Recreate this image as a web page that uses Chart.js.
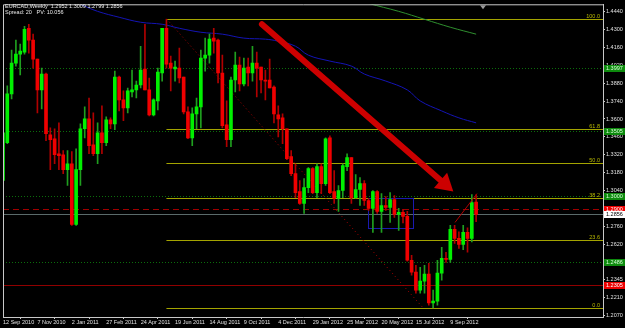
<!DOCTYPE html>
<html>
<head>
<meta charset="utf-8">
<script src="https://cdn.jsdelivr.net/npm/chart.js@4/dist/chart.umd.min.js"></script>
<style>
  html, body { margin: 0; padding: 0; background: #000; overflow: hidden; }
</style>
</head>
<body>
<canvas id="chart" width="625" height="328"></canvas>
<script>
// weekly EURCAD candles, first bar = 12 Sep 2010
const dateLabels = ['12 Sep 2010', '7 Nov 2010', '2 Jan 2011', '27 Feb 2011', '24 Apr 2011', '19 Jun 2011',
  '14 Aug 2011', '9 Oct 2011', '4 Dec 2011', '29 Jan 2012', '25 Mar 2012', '20 May 2012', '15 Jul 2012', '9 Sep 2012'];

const opens = [
  1.3120, 1.3415, 1.3796, 1.4036, 1.4106, 1.4122, 1.4308, 1.4215, 1.4067, 1.3827,
  1.3951, 1.3477, 1.3446, 1.3329, 1.3321, 1.3205, 1.3251, 1.2778, 1.3205, 1.3524,
  1.3601, 1.3399, 1.3329, 1.3492, 1.3415, 1.3593, 1.3562, 1.3927, 1.3749, 1.3687,
  1.3811, 1.3827, 1.3865, 1.3990, 1.3827, 1.3632, 1.3741, 1.3959, 1.4308, 1.4036,
  1.3990, 1.3997, 1.3927, 1.3656, 1.3453, 1.3640, 1.3694, 1.4075, 1.4098, 1.4231,
  1.4215, 1.3959, 1.3555, 1.3438, 1.3904, 1.4021, 1.3873, 1.4005, 1.3959, 1.4036,
  1.4005, 1.3904, 1.3904, 1.3850, 1.3632, 1.3609, 1.3524, 1.3306, 1.3174, 1.3034,
  1.2941, 1.3065, 1.3213, 1.3026, 1.3228, 1.3096, 1.3453, 1.3034, 1.2980, 1.3042,
  1.3228, 1.3298, 1.2987, 1.3050, 1.3096, 1.2964, 1.2902, 1.3034, 1.2879, 1.2925,
  1.2910, 1.2972, 1.2855, 1.2871, 1.2840, 1.2498, 1.2405, 1.2265, 1.2335, 1.2389,
  1.2164, 1.2179, 1.2397, 1.2513, 1.2505, 1.2739, 1.2669, 1.2622, 1.2715, 1.2669,
  1.2952];
const highs = [
  1.3508, 1.3858, 1.4137, 1.4215, 1.4184, 1.4324, 1.4339, 1.4262, 1.4067, 1.3997,
  1.3959, 1.3531, 1.3524, 1.3570, 1.3353, 1.3353, 1.3345, 1.3368, 1.3562, 1.3694,
  1.3764, 1.3648, 1.3570, 1.3702, 1.3617, 1.3609, 1.3974, 1.3935, 1.3819, 1.3842,
  1.3982, 1.3896, 1.4168, 1.4339, 1.3920, 1.3757, 1.3997, 1.4308, 1.4378, 1.4091,
  1.4052, 1.4153, 1.3927, 1.3694, 1.3687, 1.3764, 1.4137, 1.4231, 1.4262, 1.4308,
  1.4223, 1.4098, 1.3741, 1.3927, 1.4122, 1.4083, 1.4075, 1.4075, 1.4168, 1.4122,
  1.4005, 1.3982, 1.4067, 1.3858, 1.3702, 1.3640, 1.3524, 1.3353, 1.3251, 1.3120,
  1.3135, 1.3220, 1.3220, 1.3251, 1.3251, 1.3453, 1.3469, 1.3197, 1.3081, 1.3251,
  1.3329, 1.3298, 1.3166, 1.3143, 1.3120, 1.2980, 1.3042, 1.3042, 1.3018, 1.2995,
  1.3026, 1.3003, 1.2902, 1.2895, 1.2879, 1.2537, 1.2459, 1.2443, 1.2459, 1.2474,
  1.2265, 1.2498, 1.2599, 1.2560, 1.2770, 1.2770, 1.2720, 1.2770, 1.2750, 1.3011,
  1.3009];
const lows = [
  1.3104, 1.3407, 1.3757, 1.4013, 1.3943, 1.4106, 1.4114, 1.3997, 1.3648, 1.3679,
  1.3430, 1.3205, 1.3251, 1.3205, 1.3174, 1.3081, 1.2770, 1.2770, 1.3081, 1.3453,
  1.3329, 1.3314, 1.3251, 1.3329, 1.3391, 1.3524, 1.3516, 1.3663, 1.3586, 1.3648,
  1.3772, 1.3764, 1.3842, 1.3827, 1.3625, 1.3625, 1.3671, 1.3896, 1.3997, 1.3819,
  1.3896, 1.3881, 1.3640, 1.3446, 1.3391, 1.3524, 1.3531, 1.3974, 1.4036, 1.4114,
  1.3881, 1.3531, 1.3384, 1.3384, 1.3811, 1.3819, 1.3858, 1.3858, 1.3896, 1.3772,
  1.3803, 1.3749, 1.3842, 1.3570, 1.3461, 1.3407, 1.3283, 1.3158, 1.2987, 1.2933,
  1.2863, 1.3026, 1.3018, 1.2987, 1.3018, 1.3081, 1.3018, 1.2941, 1.2879, 1.2987,
  1.3197, 1.2941, 1.2980, 1.2925, 1.2925, 1.2886, 1.2715, 1.2863, 1.2715, 1.2886,
  1.2793, 1.2832, 1.2731, 1.2790, 1.2490, 1.2381, 1.2241, 1.2241, 1.2241, 1.2148,
  1.2125, 1.2148, 1.2342, 1.2480, 1.2480, 1.2630, 1.2590, 1.2580, 1.2560, 1.2640,
  1.2799];
const closes = [
  1.3492, 1.3796, 1.4036, 1.4106, 1.4130, 1.4300, 1.4215, 1.4067, 1.3827, 1.3951,
  1.3485, 1.3438, 1.3321, 1.3314, 1.3205, 1.3251, 1.2778, 1.3205, 1.3524, 1.3601,
  1.3391, 1.3329, 1.3492, 1.3415, 1.3593, 1.3562, 1.3927, 1.3749, 1.3687, 1.3819,
  1.3827, 1.3865, 1.3982, 1.3827, 1.3632, 1.3749, 1.3966, 1.4308, 1.4028, 1.3997,
  1.4005, 1.3920, 1.3656, 1.3453, 1.3640, 1.3694, 1.4075, 1.4098, 1.4223, 1.4207,
  1.3959, 1.3547, 1.3438, 1.3904, 1.4021, 1.3873, 1.3997, 1.3959, 1.4036, 1.3997,
  1.3904, 1.3896, 1.3842, 1.3640, 1.3601, 1.3524, 1.3290, 1.3174, 1.3026, 1.2941,
  1.3065, 1.3213, 1.3026, 1.3228, 1.3096, 1.3446, 1.3026, 1.2980, 1.3042, 1.3236,
  1.3298, 1.2987, 1.3050, 1.3096, 1.2964, 1.2902, 1.3034, 1.2879, 1.2925, 1.2910,
  1.2972, 1.2855, 1.2871, 1.2840, 1.2498, 1.2405, 1.2265, 1.2335, 1.2389, 1.2164,
  1.2179, 1.2397, 1.2513, 1.2505, 1.2739, 1.2669, 1.2622, 1.2715, 1.2669, 1.2948,
  1.2856];

// moving averages, read at a few bars
const maBlueIdx = [18, 22, 27, 32, 37, 41, 46, 51, 56, 61, 64, 68, 71, 76, 81, 84, 89, 94, 97, 102, 106, 110];
const maBlueVal = [1.4495, 1.4440, 1.4394, 1.4355, 1.4339, 1.4308, 1.4277, 1.4262, 1.4231, 1.4223, 1.4207,
  1.4168, 1.4098, 1.4052, 1.4013, 1.3951, 1.3896, 1.3827, 1.3741, 1.3663, 1.3609, 1.3570];
const maGreenIdx = [83, 85, 92, 98, 104, 110];
const maGreenVal = [1.4526, 1.4502, 1.4440, 1.4378, 1.4316, 1.4262];

const yTicks = [1.4440, 1.4300, 1.4160, 1.4020, 1.3880, 1.3740, 1.3600, 1.3460, 1.3320, 1.3180, 1.3040,
  1.2900, 1.2760, 1.2620, 1.2480, 1.2345, 1.2210, 1.2070];

// fibonacci retracement
const fibFrom = { x: 38, y: 1.4382 };
const fibTo = { x: 97.7, y: 1.2125 };
const fibRatios = [1, 0.618, 0.5, 0.382, 0.236, 0];
const fibNames = ['100.0', '61.8', '50.0', '38.2', '23.6', '0.0'];

const greenLevels = [1.3997, 1.3505, 1.3000, 1.2486];
const redDashLevel = 1.2900;
const redLevel = 1.2305;
const arrowFrom = { x: 60.2, y: 1.4339 };
const arrowTo = { x: 104.7, y: 1.3034 };
const boxCorners = [{ x: 84.9, y: 1.2987 }, { x: 95.3, y: 1.2754 }];
const trendSeg = [{ x: 105.1, y: 1.2793 }, { x: 110.2, y: 1.3018 }];

const FONT = 'Liberation Sans';
const idx = opens.map((o, i) => i);
const isUp = idx.map(i => closes[i] >= opens[i]);

const overlay = {
  id: 'overlay',
  beforeDatasetsDraw(chart) {
    const { ctx, chartArea: a, scales: { x, y } } = chart;
    ctx.save();
    ctx.beginPath();
    ctx.rect(a.left, a.top, a.width, a.height);
    ctx.clip();
    const hline = (v, color, dash, x0) => {
      const py = Math.round(y.getPixelForValue(v)) + 0.5;
      ctx.strokeStyle = color;
      ctx.lineWidth = 1;
      ctx.setLineDash(dash);
      ctx.beginPath();
      ctx.moveTo(x0 === undefined ? a.left : x0, py);
      ctx.lineTo(a.right, py);
      ctx.stroke();
    };
    greenLevels.forEach(v => hline(v, '#0b6e0b', [1, 2]));
    hline(redDashLevel, '#a00000', [6, 4]);
    hline(redLevel, '#900000', []);
    hline(closes[closes.length - 1], '#5a6a6a', []);
    // fib
    const fx = x.getPixelForValue(fibFrom.x);
    ctx.font = '5.5px ' + FONT;
    ctx.textAlign = 'right';
    ctx.textBaseline = 'bottom';
    fibRatios.forEach((r, k) => {
      const v = fibTo.y + r * (fibFrom.y - fibTo.y);
      hline(v, '#a4a400', [], fx);
      ctx.fillStyle = '#b8b800';
      ctx.fillText(fibNames[k], a.right - 3, Math.round(y.getPixelForValue(v)));
    });
    ctx.setLineDash([1, 3]);
    ctx.strokeStyle = '#b00000';
    ctx.beginPath();
    ctx.moveTo(fx, y.getPixelForValue(fibFrom.y));
    ctx.lineTo(x.getPixelForValue(fibTo.x), y.getPixelForValue(fibTo.y));
    ctx.stroke();
    ctx.setLineDash([]);
    // box
    const bx0 = x.getPixelForValue(boxCorners[0].x), by0 = y.getPixelForValue(boxCorners[0].y);
    const bx1 = x.getPixelForValue(boxCorners[1].x), by1 = y.getPixelForValue(boxCorners[1].y);
    ctx.strokeStyle = '#1a1ab0';
    ctx.strokeRect(Math.round(bx0) + 0.5, Math.round(by0) + 0.5, Math.round(bx1 - bx0), Math.round(by1 - by0));
    ctx.restore();
  },
  afterDatasetsDraw(chart) {
    const { ctx, chartArea: a, scales: { x, y } } = chart;
    ctx.save();
    ctx.beginPath();
    ctx.rect(a.left, a.top, a.width, a.height);
    ctx.clip();
    // trend segment
    ctx.strokeStyle = '#b00000';
    ctx.lineWidth = 1;
    ctx.beginPath();
    ctx.moveTo(x.getPixelForValue(trendSeg[0].x), y.getPixelForValue(trendSeg[0].y));
    ctx.lineTo(x.getPixelForValue(trendSeg[1].x), y.getPixelForValue(trendSeg[1].y));
    ctx.stroke();
    // big arrow
    const x0 = x.getPixelForValue(arrowFrom.x), y0 = y.getPixelForValue(arrowFrom.y);
    const x1 = x.getPixelForValue(arrowTo.x), y1 = y.getPixelForValue(arrowTo.y);
    const ang = Math.atan2(y1 - y0, x1 - x0);
    const headLen = 17, headW = 10;
    const bx = x1 - headLen * Math.cos(ang), by = y1 - headLen * Math.sin(ang);
    ctx.strokeStyle = '#cc0000';
    ctx.fillStyle = '#cc0000';
    ctx.lineWidth = 6;
    ctx.lineCap = 'round';
    ctx.beginPath();
    ctx.moveTo(x0, y0);
    ctx.lineTo(bx, by);
    ctx.stroke();
    ctx.beginPath();
    ctx.moveTo(x1, y1);
    ctx.lineTo(bx + headW * Math.sin(ang), by - headW * Math.cos(ang));
    ctx.lineTo(bx - headW * Math.sin(ang), by + headW * Math.cos(ang));
    ctx.closePath();
    ctx.fill();
    ctx.restore();
  },
  afterDraw(chart) {
    const { ctx, chartArea: a, scales: { x, y } } = chart;
    ctx.save();
    // frame
    ctx.strokeStyle = '#c8c8c8';
    ctx.lineWidth = 1;
    ctx.beginPath();
    ctx.moveTo(a.left + 0.5, a.bottom);
    ctx.lineTo(a.left + 0.5, a.top + 0.5);
    ctx.lineTo(a.right, a.top + 0.5);
    ctx.stroke();
    // chart shift marker
    const sx = Math.round(x.getPixelForValue(opens.length + 0.5));
    ctx.fillStyle = '#9a9a9a';
    ctx.beginPath();
    ctx.moveTo(sx - 3, a.top + 1);
    ctx.lineTo(sx + 3, a.top + 1);
    ctx.lineTo(sx, a.top + 5);
    ctx.closePath();
    ctx.fill();
    // title
    ctx.font = '5.5px ' + FONT;
    ctx.fillStyle = '#e8e8e8';
    ctx.textAlign = 'left';
    ctx.textBaseline = 'middle';
    const last = closes.length - 1;
    ctx.fillText('EURCAD,Weekly  ' + opens[last].toFixed(4) + ' ' + highs[last].toFixed(4) + ' ' +
      lows[last].toFixed(4) + ' ' + closes[last].toFixed(4), 5, 6);
    ctx.fillText('Spread: 20   PV: 10.056', 5, 12);
    // price tags on the right scale
    const tag = (v, bg, fg) => {
      const py = Math.round(y.getPixelForValue(v));
      ctx.fillStyle = bg;
      ctx.fillRect(a.right + 1, py - 3, 21, 7);
      ctx.fillStyle = fg;
      ctx.fillText(v.toFixed(4), a.right + 3, py + 0.5);
    };
    greenLevels.forEach(v => tag(v, '#0d8a0d', '#d8ffd8'));
    tag(redDashLevel, '#ee0000', '#ffffff');
    tag(redLevel, '#ee0000', '#ffffff');
    tag(closes[last], '#ffffff', '#000000');
    ctx.restore();
  }
};

new Chart(document.getElementById('chart'), {
  type: 'bar',
  data: {
    datasets: [
      {
        type: 'line',
        data: maBlueIdx.map((v, k) => ({ x: v, y: maBlueVal[k] })),
        borderColor: '#1414b4',
        borderWidth: 1,
        pointRadius: 0,
        tension: 0.4,
        order: 3
      },
      {
        type: 'line',
        data: maGreenIdx.map((v, k) => ({ x: v, y: maGreenVal[k] })),
        borderColor: '#2f8f2f',
        borderWidth: 1,
        pointRadius: 0,
        tension: 0.4,
        order: 3
      },
      {
        label: 'wick',
        data: idx.map(i => ({ x: i, y: [lows[i], highs[i]] })),
        backgroundColor: idx.map(i => isUp[i] ? '#1f9f1f' : '#b00000'),
        barThickness: 1,
        grouped: false,
        minBarLength: 1,
        order: 2
      },
      {
        label: 'body',
        data: idx.map(i => ({ x: i, y: [opens[i], closes[i]] })),
        backgroundColor: idx.map(i => isUp[i] ? '#00f000' : '#f00000'),
        barThickness: 3,
        grouped: false,
        minBarLength: 1,
        order: 1
      }
    ]
  },
  options: {
    responsive: false,
    animation: false,
    devicePixelRatio: 1,
    layout: { padding: { left: 3, top: 3, right: 0, bottom: 0 } },
    plugins: { legend: { display: false }, tooltip: { enabled: false } },
    scales: {
      x: {
        type: 'linear',
        min: 0,
        max: 139.5,
        offset: false,
        afterFit: s => { s.height = 11; },
        afterBuildTicks: s => { s.ticks = dateLabels.map((d, k) => ({ value: k * 8 })); },
        ticks: {
          color: '#e0e0e0',
          font: { family: FONT, size: 5.5 },
          align: 'start',
          maxRotation: 0,
          autoSkip: false,
          padding: 0,
          callback: v => dateLabels[Math.round(v / 8)]
        },
        grid: { drawOnChartArea: false, color: '#c8c8c8', tickLength: 2 },
        border: { color: '#c8c8c8' }
      },
      y: {
        position: 'right',
        min: 1.2055,
        max: 1.4495,
        afterFit: s => { s.width = 22; },
        afterBuildTicks: s => { s.ticks = yTicks.map(v => ({ value: v })); },
        ticks: {
          color: '#e0e0e0',
          font: { family: FONT, size: 5.5 },
          padding: 1,
          autoSkip: false,
          callback: v => v.toFixed(4)
        },
        grid: { drawOnChartArea: false, color: '#c8c8c8', tickLength: 2 },
        border: { color: '#c8c8c8' }
      }
    }
  },
  plugins: [overlay]
});
</script>
</body>
</html>
